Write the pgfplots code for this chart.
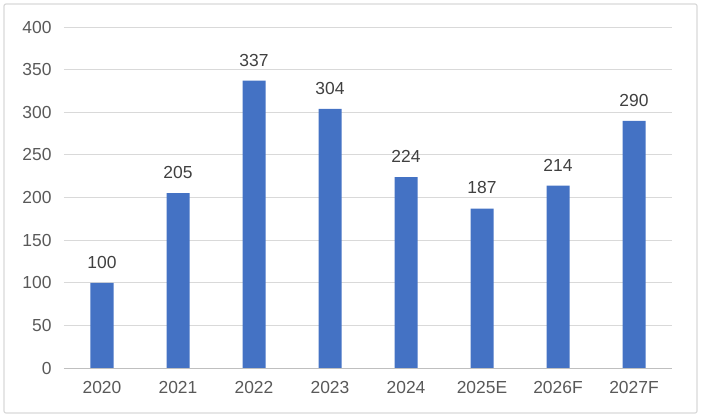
\documentclass[border=0pt]{standalone}
\usepackage{pgfplots}
\pgfplotsset{compat=1.18}
\usepackage{fontspec}
\setmainfont{Liberation Sans}
\definecolor{barblue}{HTML}{4472C4}
\definecolor{gridgray}{HTML}{D9D9D9}
\definecolor{ticktext}{HTML}{595959}
\definecolor{labeltext}{HTML}{404040}
\begin{document}
\begin{tikzpicture}[x=1bp,y=1bp]
\useasboundingbox (-64,-51) rectangle (637,368);
\draw[color=gridgray, line width=1.2bp, rounded corners=2bp] (-60,-45) rectangle (633,364);
\begin{axis}[
  at={(0,0)}, anchor=south west,
  scale only axis, width=608bp, height=341bp,
  xmin=-0.5, xmax=7.5, ymin=0, ymax=400,
  ytick={0,50,...,400},
  xtick=data,
  xticklabels={2020,2021,2022,2023,2024,2025E,2026F,2027F},
  axis line style={draw=none},
  ymajorgrids, grid style={gridgray, line width=1bp},
  major tick length=0pt,
  ticklabel style={font=\fontsize{17.5}{20}\selectfont, text=ticktext},
  /pgf/number format/assume math mode=true,
  yticklabel style={xshift=-9bp},
  xticklabel style={yshift=-10bp},
  every node near coord/.append style={font=\fontsize{17.5}{20}\selectfont, text=labeltext, yshift=11bp},
  clip=false,
]
\addplot[ybar, bar width=23bp, fill=barblue, draw=none, nodes near coords] coordinates {
(0,100) (1,205) (2,337) (3,304) (4,224) (5,187) (6,214) (7,290)};
\draw[color=gridgray!85!black!90, line width=1bp] (axis cs:-0.5,0) -- (axis cs:7.5,0);
\end{axis}
\end{tikzpicture}
\end{document}
